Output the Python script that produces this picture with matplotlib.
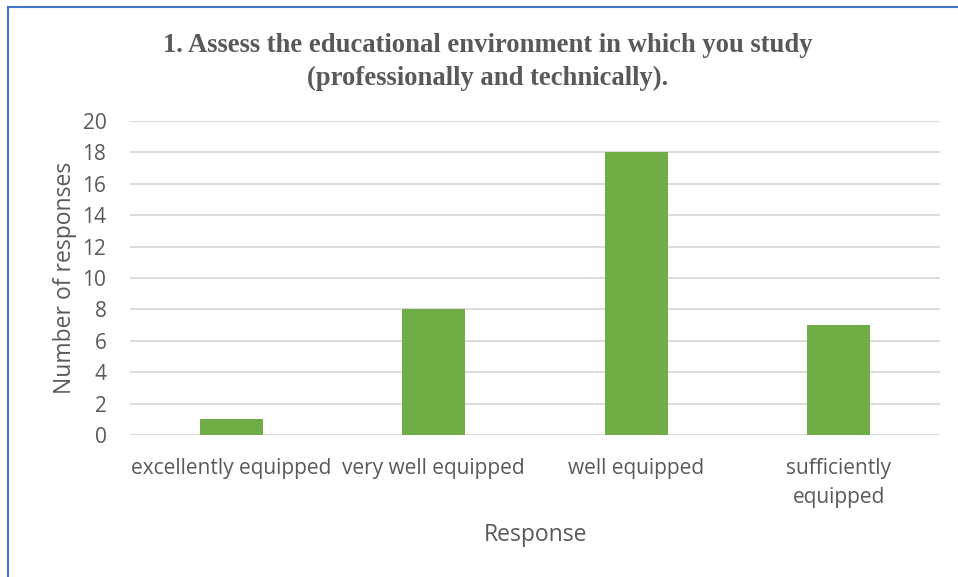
import matplotlib.pyplot as plt
import matplotlib.patches as patches
import numpy as np

# Survey answers
categories = ['excellently equipped', 'very well equipped', 'well equipped', 'sufficiently\nequipped']
counts = [1, 8, 18, 7]
yticks = [0, 2, 4, 6, 8, 10, 12, 14, 16, 18, 20]

title = '1. Assess the educational environment in which you study\n(professionally and technically).'

text_col = '#595959'
bar_col = '#70AD47'
grid_col = '#D9D9D9'

fig = plt.figure(figsize=(9.58, 5.77), dpi=100)
ax = fig.add_axes([130/958, 1-435/577, 810/958, 314/577])

x = np.arange(len(categories))
ax.bar(x, counts, width=0.31, color=bar_col, zorder=3)

ax.set_xlim(-0.5, len(categories)-0.5)
ax.set_ylim(0, 20)
ax.set_yticks(yticks)
ax.set_xticks(x)
ax.set_xticklabels(categories, fontsize=15, color=text_col, family='Open Sans', linespacing=1.5)
for lab in ax.get_yticklabels():
    lab.set_fontsize(15)
    lab.set_color(text_col)
    lab.set_family('Open Sans')
ax.tick_params(length=0, pad=16.5)
ax.tick_params(axis='y', pad=17)
ax.grid(axis='y', color=grid_col, lw=1.3, zorder=0)
for s in ax.spines.values():
    s.set_visible(False)

ax.set_xlabel('Response', fontsize=16.5, color=text_col, family='Open Sans', labelpad=11)
ax.set_ylabel('Number of responses', fontsize=16.5, color=text_col, family='Open Sans', labelpad=4)

fig.text(488/958, 1-62/577, title, ha='center', va='center', fontsize=19.2,
         fontweight='bold', family='Liberation Serif', color=text_col, linespacing=1.37)

# blue frame around the chart
fig.patches.append(patches.Rectangle((8/958, -0.1), 1.2, 1-7/577+0.1, transform=fig.transFigure,
                                     fill=False, edgecolor='#4472C4', lw=1.5))

fig.savefig('out.png', dpi=100)
